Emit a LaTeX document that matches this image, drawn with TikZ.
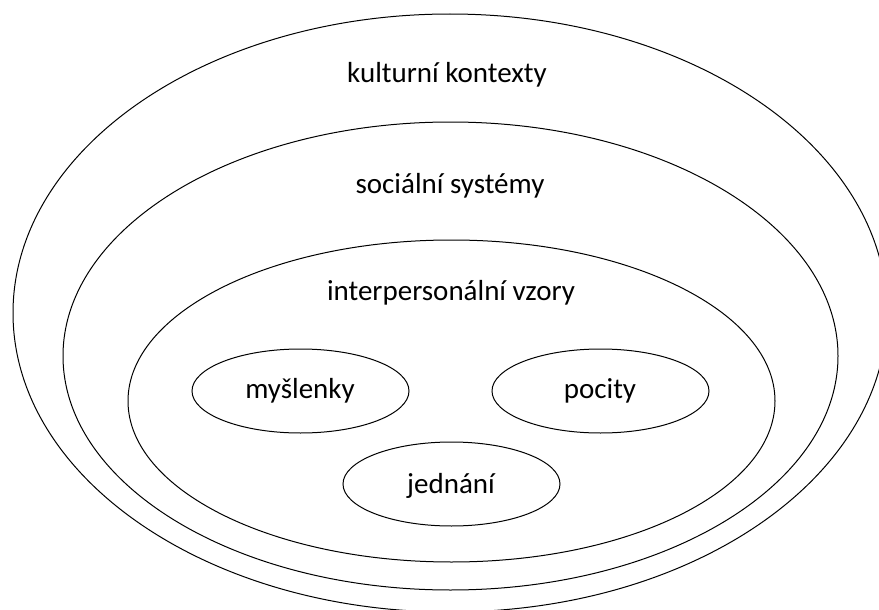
\documentclass[tikz,border=0pt]{standalone}
\usepackage{fontspec}
\setmainfont{Carlito}
\tikzset{label text/.style={font=\fontsize{29}{34}\selectfont,inner sep=0pt}}
\begin{document}
\begin{tikzpicture}[x=1pt,y=-1pt,line width=1pt]
\clip (0,0) rectangle (879,610);
% nested circles
\draw (450,313) ellipse [x radius=437, y radius=299];
\draw (450.5,356) ellipse [x radius=387.5, y radius=234];
\draw (451.5,401) ellipse [x radius=323.5, y radius=161];
% inner three
\draw (300.5,391) ellipse [x radius=108.5, y radius=42];
\draw (600.5,391) ellipse [x radius=108.5, y radius=42];
\draw (451.5,484) ellipse [x radius=108.5, y radius=42];

\node[label text] (kultura) at (447,75) {kulturní kontexty};
\node[label text] (socialni) at (450,186) {sociální systémy};
\node[label text] (vzory) at (451,293) {interpersonální vzory};
\node[label text] (myslenky) at (300,391) {myšlenky};
\node[label text] (pocity) at (600,391) {pocity};
\node[label text] (jednani) at (451,486) {jednání};
\end{tikzpicture}
\end{document}
